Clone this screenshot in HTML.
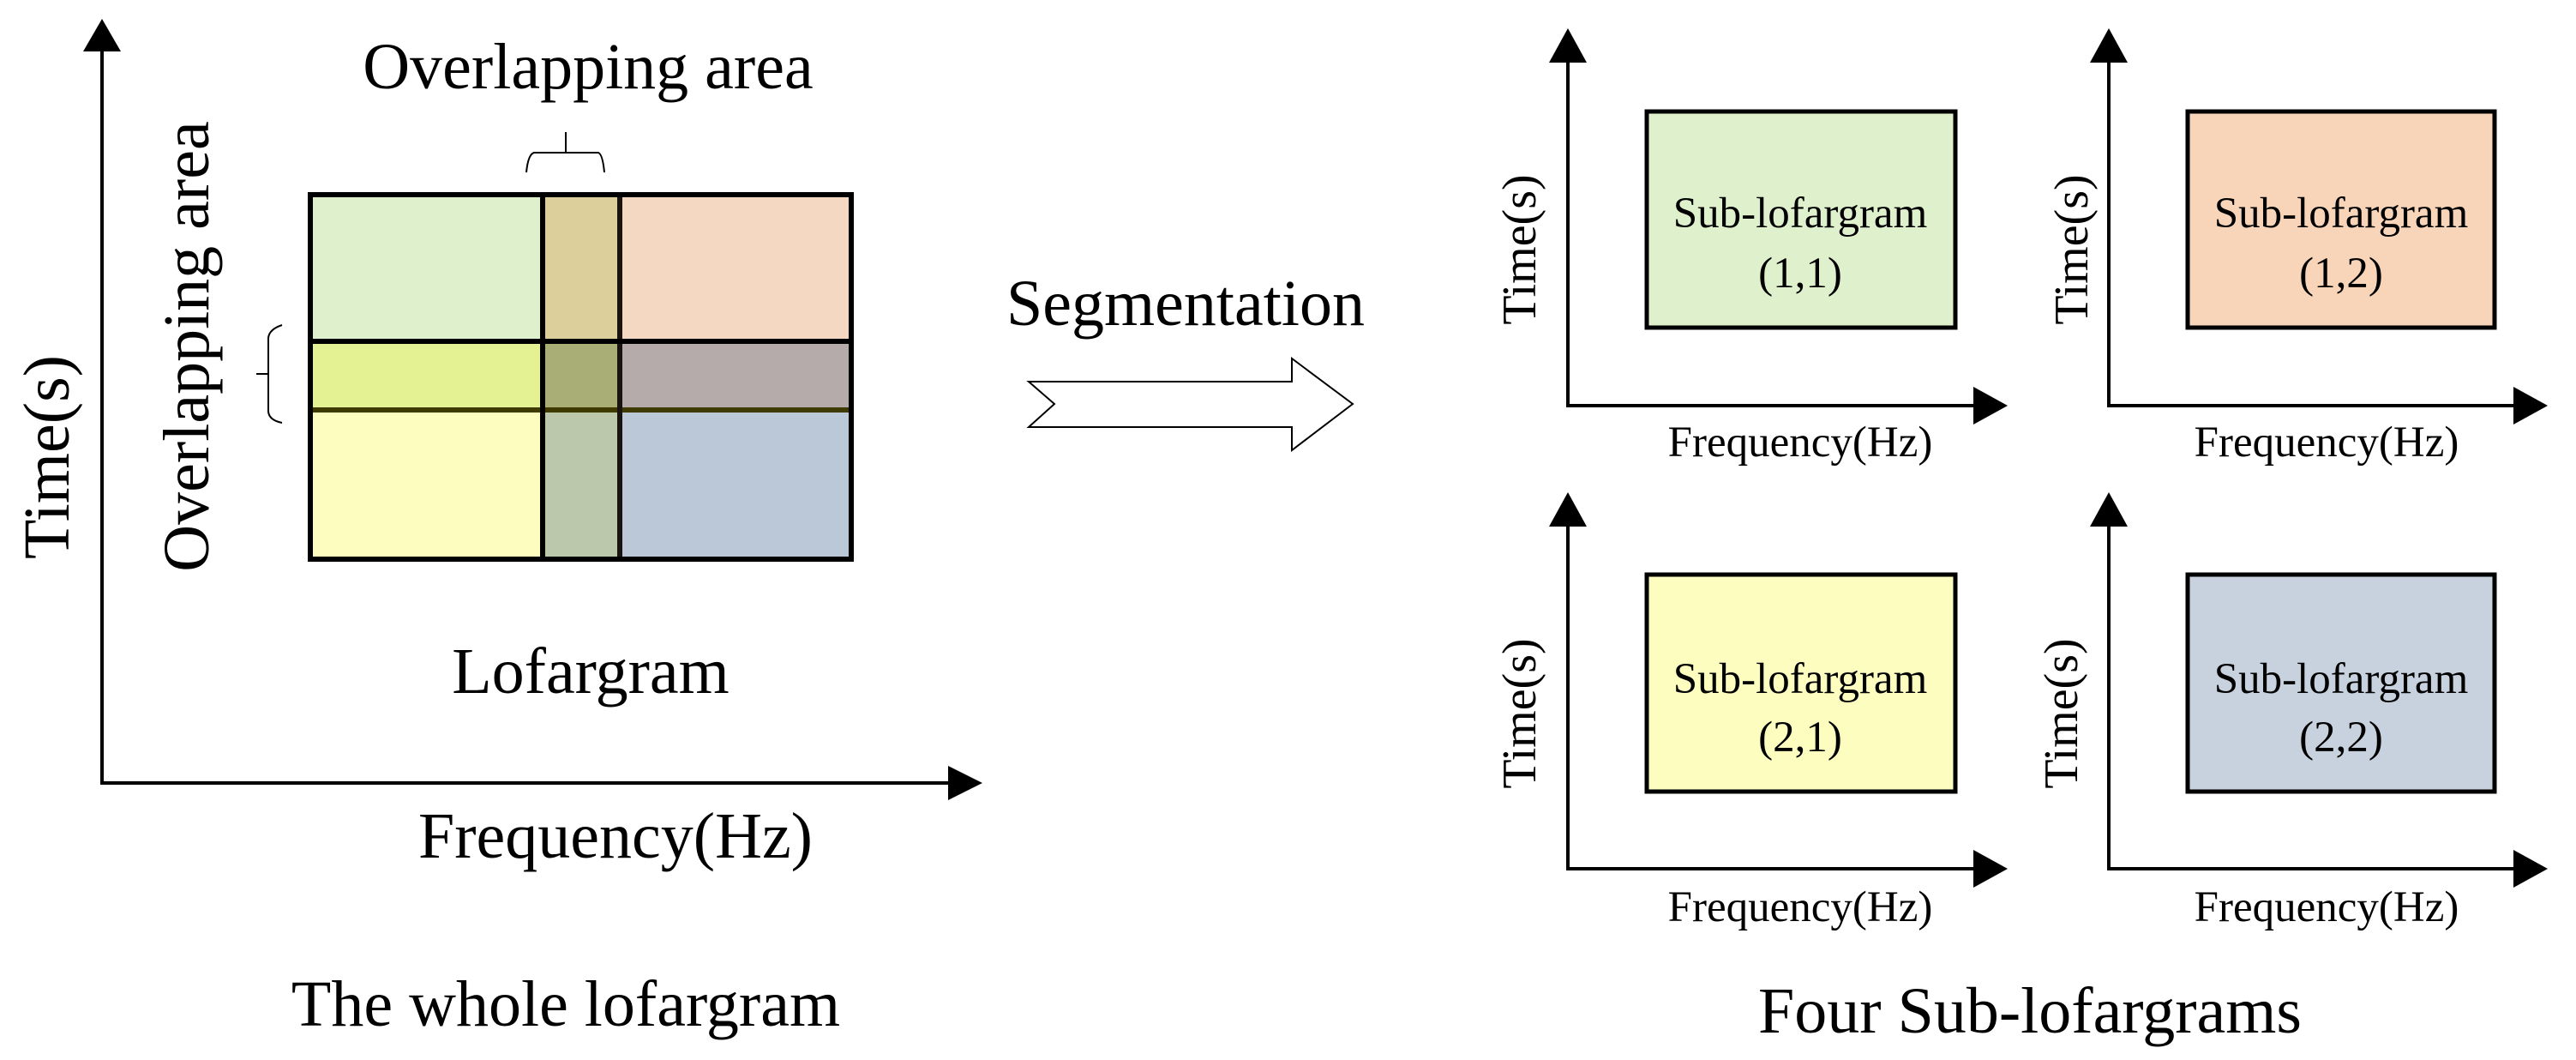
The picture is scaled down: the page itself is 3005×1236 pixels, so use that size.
<!DOCTYPE html>
<html><head><meta charset="utf-8"><style>html,body{margin:0;padding:0;background:#fff}svg{display:block}</style></head>
<body>
<svg width="3005" height="1236" viewBox="0 0 3005 1236" xmlns="http://www.w3.org/2000/svg" font-family="'Liberation Serif', serif">
<defs>
<marker id="ah" markerWidth="10" markerHeight="10" refX="0" refY="5" orient="auto" markerUnits="userSpaceOnUse"></marker>
</defs>
<!-- left axes -->
<line x1="119" y1="913" x2="119" y2="50" stroke="#000" stroke-width="4"/>
<polygon points="119,22 97,60 141,60" fill="#000"/>
<line x1="117" y1="913" x2="1110" y2="913" stroke="#000" stroke-width="4"/>
<polygon points="1146,913 1106,893 1106,933" fill="#000"/>
<!-- grid fills -->
<rect x="362" y="227" width="271" height="171" fill="#dff0cc"/>
<rect x="633" y="227" width="90" height="171" fill="#dccf9c"/>
<rect x="723" y="227" width="270" height="171" fill="#f4d8c2"/>
<rect x="362" y="398" width="271" height="80" fill="#e5f293"/>
<rect x="633" y="398" width="90" height="80" fill="#a9ae77"/>
<rect x="723" y="398" width="270" height="80" fill="#b6abab"/>
<rect x="362" y="478" width="271" height="174" fill="#fdfdc0"/>
<rect x="633" y="478" width="90" height="174" fill="#bbc8ab"/>
<rect x="723" y="478" width="270" height="174" fill="#bbc8d8"/>
<line x1="362" y1="478" x2="993" y2="478" stroke="#3e3a00" stroke-width="6"/>
<line x1="723" y1="227" x2="723" y2="652" stroke="#1a1410" stroke-width="6"/>
<line x1="633" y1="227" x2="633" y2="652" stroke="#000" stroke-width="6"/>
<line x1="362" y1="398" x2="993" y2="398" stroke="#000" stroke-width="6"/>
<rect x="362" y="227" width="631" height="425" fill="none" stroke="#000" stroke-width="6"/>
<!-- braces -->
<path d="M614,201 Q616,180 623,178 L698,178 Q703,180 705,201 M660,178 V154" fill="none" stroke="#000" stroke-width="2"/>
<path d="M329,379 Q314,384 313,394 L313,480 Q314,490 329,493 M299,436 H313" fill="none" stroke="#000" stroke-width="2"/>
<!-- left texts -->
<text x="686" y="103" font-size="76" text-anchor="middle">Overlapping area</text>
<text transform="translate(243,404) rotate(-90)" font-size="76" text-anchor="middle">Overlapping area</text>
<text transform="translate(80,533) rotate(-90)" font-size="76" text-anchor="middle">Time(s)</text>
<text x="689" y="808" font-size="76" text-anchor="middle">Lofargram</text>
<text x="718" y="1000" font-size="76" text-anchor="middle">Frequency(Hz)</text>
<text x="660" y="1196" font-size="76" text-anchor="middle">The whole lofargram</text>
<!-- segmentation -->
<text x="1383" y="379" font-size="76" text-anchor="middle">Segmentation</text>
<polygon points="1200,445 1507,445 1507,418 1578,471 1507,525 1507,498 1200,498 1230,471" fill="#fff" stroke="#000" stroke-width="2"/>
<!-- sub plots -->
<g id="s">
</g>
<!-- TL -->
<line x1="1829" y1="473" x2="1829" y2="60" stroke="#000" stroke-width="4"/>
<polygon points="1829,33 1807,73 1851,73" fill="#000"/>
<line x1="1827" y1="473" x2="2310" y2="473" stroke="#000" stroke-width="4"/>
<polygon points="2342,473 2302,451 2302,495" fill="#000"/>
<rect x="1921" y="130" width="360" height="252" fill="#dff0cc" stroke="#000" stroke-width="5"/>
<text x="2100" y="265" font-size="51" text-anchor="middle">Sub-lofargram</text>
<text x="2100" y="335" font-size="51" text-anchor="middle">(1,1)</text>
<text transform="translate(1791,291) rotate(-90)" font-size="56" text-anchor="middle">Time(s)</text>
<text x="2100" y="532" font-size="51" text-anchor="middle">Frequency(Hz)</text>
<!-- TR -->
<line x1="2460" y1="473" x2="2460" y2="60" stroke="#000" stroke-width="4"/>
<polygon points="2460,33 2438,73 2482,73" fill="#000"/>
<line x1="2458" y1="473" x2="2940" y2="473" stroke="#000" stroke-width="4"/>
<polygon points="2972,473 2932,451 2932,495" fill="#000"/>
<rect x="2552" y="130" width="358" height="252" fill="#f8d5b8" stroke="#000" stroke-width="5"/>
<text x="2731" y="265" font-size="51" text-anchor="middle">Sub-lofargram</text>
<text x="2731" y="335" font-size="51" text-anchor="middle">(1,2)</text>
<text transform="translate(2435,291) rotate(-90)" font-size="56" text-anchor="middle">Time(s)</text>
<text x="2714" y="532" font-size="51" text-anchor="middle">Frequency(Hz)</text>
<!-- BL -->
<line x1="1829" y1="1013" x2="1829" y2="600" stroke="#000" stroke-width="4"/>
<polygon points="1829,574 1807,614 1851,614" fill="#000"/>
<line x1="1827" y1="1013" x2="2310" y2="1013" stroke="#000" stroke-width="4"/>
<polygon points="2342,1013 2302,991 2302,1035" fill="#000"/>
<rect x="1921" y="670" width="360" height="253" fill="#fdfdc0" stroke="#000" stroke-width="5"/>
<text x="2100" y="808" font-size="51" text-anchor="middle">Sub-lofargram</text>
<text x="2100" y="876" font-size="51" text-anchor="middle">(2,1)</text>
<text transform="translate(1791,832) rotate(-90)" font-size="56" text-anchor="middle">Time(s)</text>
<text x="2100" y="1074" font-size="51" text-anchor="middle">Frequency(Hz)</text>
<!-- BR -->
<line x1="2460" y1="1013" x2="2460" y2="600" stroke="#000" stroke-width="4"/>
<polygon points="2460,574 2438,614 2482,614" fill="#000"/>
<line x1="2458" y1="1013" x2="2940" y2="1013" stroke="#000" stroke-width="4"/>
<polygon points="2972,1013 2932,991 2932,1035" fill="#000"/>
<rect x="2552" y="670" width="358" height="253" fill="#c8d2df" stroke="#000" stroke-width="5"/>
<text x="2731" y="808" font-size="51" text-anchor="middle">Sub-lofargram</text>
<text x="2731" y="876" font-size="51" text-anchor="middle">(2,2)</text>
<text transform="translate(2423,832) rotate(-90)" font-size="56" text-anchor="middle">Time(s)</text>
<text x="2714" y="1074" font-size="51" text-anchor="middle">Frequency(Hz)</text>
<text x="2368" y="1204" font-size="76" text-anchor="middle">Four Sub-lofargrams</text>
</svg>
</body></html>
